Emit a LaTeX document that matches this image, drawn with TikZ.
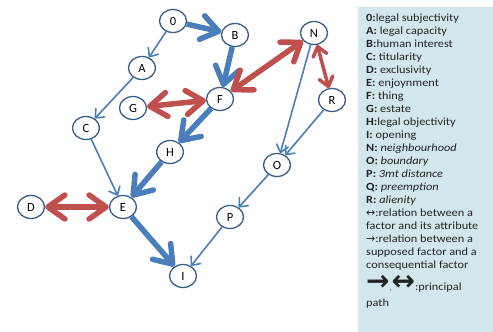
\documentclass[tikz,border=0pt]{standalone}
\usepackage{fontspec}
\setmainfont{Carlito}
\newfontfamily\legfont{Carlito}[FakeStretch=1.12]
\newfontfamily\symfont{DejaVu Sans}
\usetikzlibrary{arrows.meta,shapes.geometric}
\definecolor{nodeblue}{RGB}{56,93,138}
\definecolor{arrblue}{RGB}{74,126,187}
\definecolor{arrred}{RGB}{192,80,77}
\definecolor{legbg}{RGB}{210,230,238}
\definecolor{legtext}{RGB}{35,35,35}
\begin{document}
\begin{tikzpicture}[x=1pt,y=-1pt,
  fac/.style={ellipse, draw=nodeblue, line width=1.3pt, fill=white,
    minimum width=27pt, minimum height=23pt, inner sep=0pt,
    font=\fontsize{12.5}{14}\selectfont},
  rel/.style={draw=arrblue, line width=1.6pt, line cap=round,
    -{Straight Barb[length=7pt,width=12pt,round]}},
  prin/.style={draw=arrblue, line width=5.5pt,
    -{Straight Barb[length=17pt,width=24pt,round]}},
  attr/.style={draw=arrred, line width=5.5pt,
    {Straight Barb[length=17pt,width=24pt,round]}-{Straight Barb[length=17pt,width=24pt,round]}},
  attrm/.style={draw=arrred, line width=3.5pt,
    {Straight Barb[length=9pt,width=14pt,round]}-{Straight Barb[length=9pt,width=14pt,round]}},
  legend/.style={anchor=north west, align=left, inner sep=0pt, text=legtext,
    font=\legfont\fontsize{11}{13}\selectfont}
]
\useasboundingbox (0,0) rectangle (493,332);
\fill[legbg] (358,7) rectangle (493,332);

% nodes
\node[fac] (n0) at (173,21) {0};
\node[fac] (B) at (235,35) {B};
\node[fac] (A) at (142,68) {A};
\node[fac] (F) at (220,99) {F};
\node[fac] (G) at (133,108) {G};
\node[fac] (C) at (86,128) {C};
\node[fac] (H) at (170,152) {H};
\node[fac] (E) at (123,207) {E};
\node[fac] (D) at (31,207) {D};
\node[fac] (I) at (183,276) {I};
\node[fac] (P) at (230,217) {P};
\node[fac] (N) at (314,33) {N};
\node[fac] (R) at (332,100) {R};
\node[fac] (O) at (277,165) {O};

% connectors
\draw[rel] (n0) -- (A);
\draw[rel] (A) -- (C);
\draw[rel] (C) -- (E);
\draw[rel] (N) -- (O);
\draw[rel] (R) -- (O);
\draw[rel] (O) -- (P);
\draw[rel] (P) -- (I);
\draw[prin] (n0) -- (B);
\draw[prin] (B) -- (F);
\draw[prin] (F) -- (H);
\draw[prin] (H) -- (E);
\draw[prin] (E) -- (I);
\draw[attr] (G) -- (F);
\draw[attr] (F) -- (N);
\draw[attr] (D) -- (E);
\draw[attrm] (N) -- (R);

% legend
\node[legend] (leg) at (366,14) {%
\textbf{0:}legal subjectivity\\
\textbf{A:} legal capacity\\
\textbf{B:}human interest\\
\textbf{C:} titularity\\
\textbf{D:} exclusivity\\
\textbf{E:} enjoynment\\
\textbf{F:} thing\\
\textbf{G:} estate\\
\textbf{H:}legal objectivity\\
\textbf{I:} opening\\
\textbf{N:} \textit{neighbourhood}\\
\textbf{O:} \textit{boundary}\\
\textbf{P:} \textit{3mt distance}\\
\textbf{Q:} \textit{preemption}\\
\textbf{R:} \textit{alienity}\\
{\symfont ↔}:relation between a\\
factor and its attribute\\
{\symfont →}:relation between a\\
supposed factor and a\\
consequential factor};
\node[legend, font=\legfont\fontsize{11}{16}\selectfont] (leg2) at (366,275) {%
{\symfont\bfseries\fontsize{28}{16}\selectfont →}{\fontsize{7}{8}\selectfont,}{\symfont\bfseries\fontsize{28}{16}\selectfont ↔}:principal\\
path};
\end{tikzpicture}
\end{document}
